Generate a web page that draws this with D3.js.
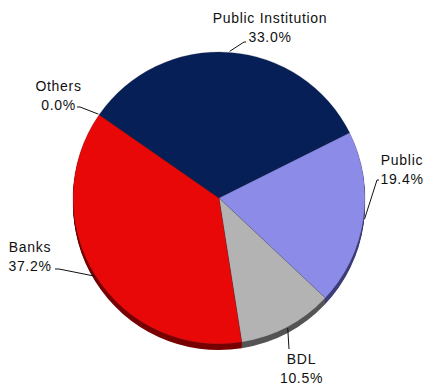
<!DOCTYPE html>
<html>
<head>
<meta charset="utf-8">
<script src="https://cdn.jsdelivr.net/npm/d3@7/dist/d3.min.js"></script>
<style>
  html, body { margin: 0; padding: 0; background: #fff; }
  svg { display: block; }
  text { font-family: "Liberation Sans", Arial, sans-serif; font-size: 14px; letter-spacing: 0.7px; fill: #111; }
</style>
</head>
<body>
<svg id="chart" width="426" height="385"></svg>
<script>
// Shares of holders, in percent
const categories = ["Public Institution", "Public", "BDL", "Banks", "Others"];
const shares = [33.0, 19.4, 10.5, 37.2, 0.0];
const labels = ["33.0%", "19.4%", "10.5%", "37.2%", "0.0%"];

// Slice colours (top face) and their darker side colours
const topColors = ["#071f57", "#8c8ce8", "#b3b3b3", "#e80808", "#e80808"];
const sideColors = ["#03102e", "#3c3c78", "#555555", "#780000", "#780000"];

// Where each label block sits (text centre, first baseline) and its leader elbow
const labelLayout = [
  { x: 270, y: 23, elbow: [244, 42], tail: [246, 42] },
  { x: 402, y: 165, elbow: [377, 180], tail: [379, 180] },
  { x: 301.5, y: 364, elbow: [289, 349], tail: [289, 349] },
  { x: 30, y: 252, elbow: [59, 269], tail: [55, 269] },
  { x: 58.5, y: 91, elbow: [80, 107], tail: [77, 107] }
];

const svg = d3.select("#chart");
const cx = 219, cy = 198, r = 146, depth = 6;
const start = -55.2 * Math.PI / 180;

const pie = d3.pie().sort(null).value(d => d)
  .startAngle(start).endAngle(start + 2 * Math.PI);
const arcs = pie(shares);
const arc = d3.arc().innerRadius(0).outerRadius(r);

const g = svg.append("g").attr("transform", `translate(${cx},${cy})`);

// Side of the disc: stacked darker copies shifted downward
for (let k = depth; k >= 1; k--) {
  g.append("g").attr("transform", `translate(0,${k})`)
    .selectAll("path").data(arcs).join("path")
    .attr("d", arc)
    .attr("fill", (d, i) => sideColors[i]);
}

// Top face
g.selectAll("path.slice").data(arcs).join("path")
  .attr("class", "slice")
  .attr("d", arc)
  .attr("fill", (d, i) => topColors[i])
  .attr("stroke", "rgba(40,40,60,0.35)")
  .attr("stroke-width", 0.6);

// Leader lines from the rim at each slice's middle angle
arcs.forEach((a, i) => {
  const mid = (a.startAngle + a.endAngle) / 2;
  const ex = cx + Math.sin(mid) * (r + 1);
  const ey = cy - Math.cos(mid) * (r + 1);
  const L = labelLayout[i];
  svg.append("polyline")
    .attr("points", [[ex, ey], L.elbow, L.tail].map(p => p.join(",")).join(" "))
    .attr("fill", "none")
    .attr("stroke", "#111")
    .attr("stroke-width", 1);

  const t = svg.append("text").attr("text-anchor", "middle");
  t.append("tspan").attr("x", L.x).attr("y", L.y).text(categories[i]);
  t.append("tspan").attr("x", L.x).attr("y", L.y + 19).text(labels[i]);
});
</script>
</body>
</html>
